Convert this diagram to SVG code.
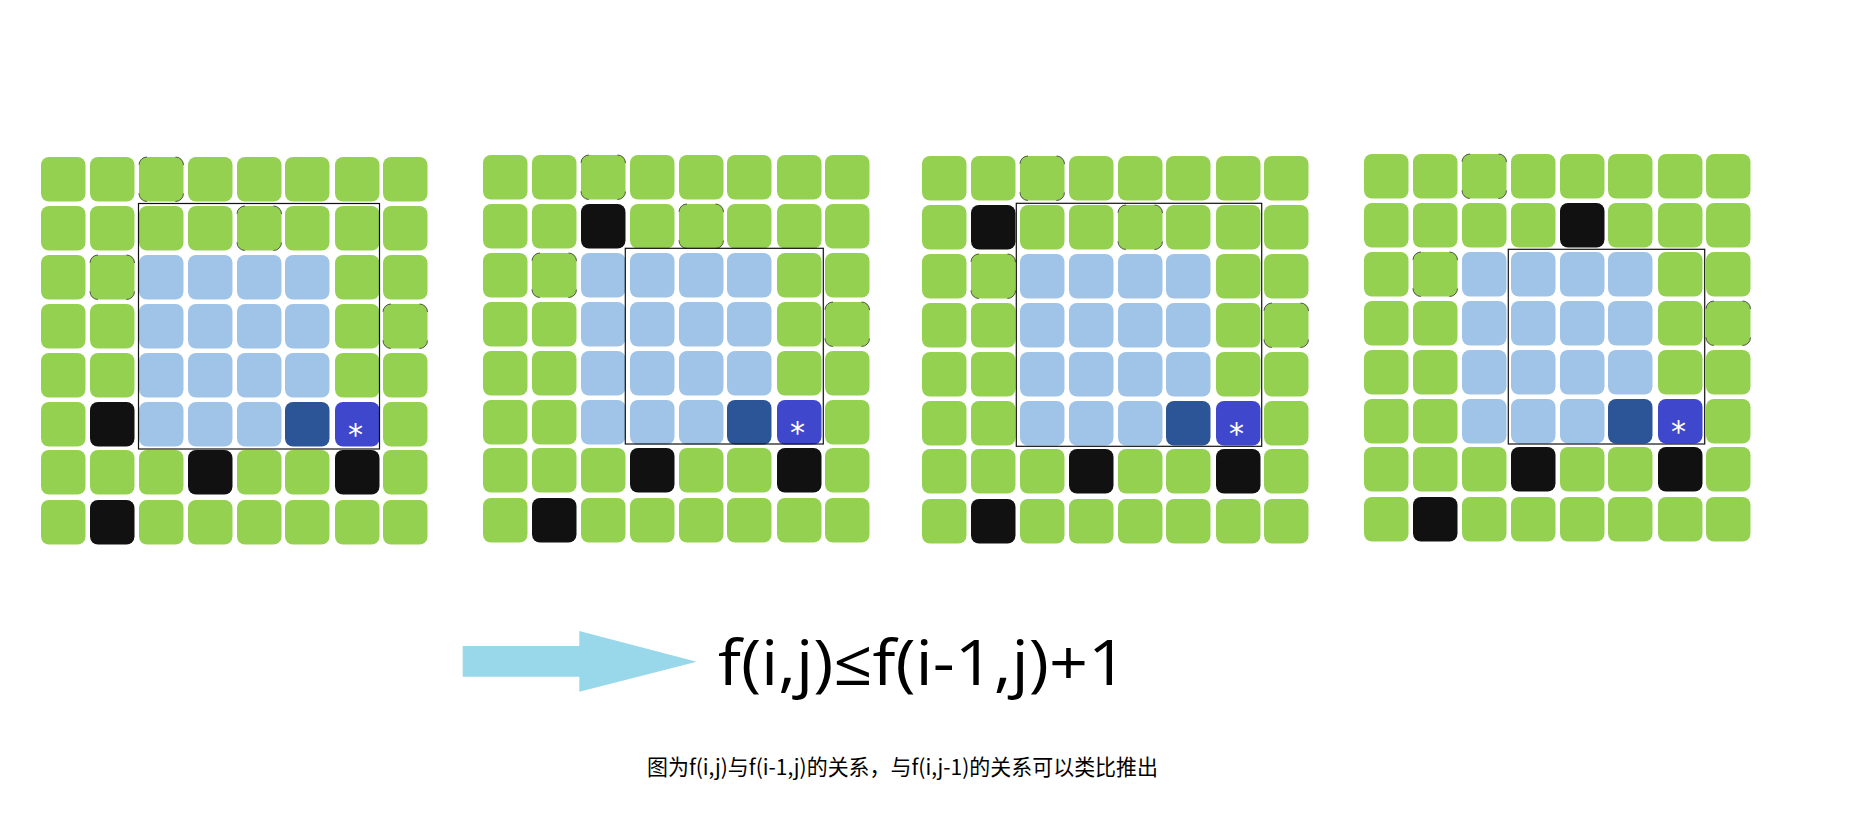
<svg xmlns="http://www.w3.org/2000/svg" xmlns:xlink="http://www.w3.org/1999/xlink" width="1876" height="818" viewBox="0 0 1876 818">
<style>
.g{fill:#95d150}
.b{fill:#9fc4e7}
.d{fill:#2b5597}
.p{fill:#3f48cc}
.k{fill:#111111}
.e{stroke:#333;stroke-width:0.8;stroke-dasharray:0 28.5 12.566 0}
.win{fill:none;stroke:#111;stroke-width:1.2}
.star{fill:#ffffff;font-family:"DejaVu Sans",sans-serif;font-size:30px;text-anchor:middle}
.formula{fill:#000;font-family:"Open Sans","Liberation Sans",sans-serif;font-size:63px}
.caption{fill:#000;font-family:"Noto Sans CJK SC","Noto Sans",sans-serif;font-size:21.5px}
</style>
<defs>
<rect id="c" width="44.5" height="44.5" rx="8"/>
</defs>
<rect width="1876" height="818" fill="#ffffff"/>

<g id="grid1" transform="translate(41,157)">
<use href="#c" x="0" y="0" class="g"/><use href="#c" x="49" y="0" class="g"/><use href="#c" x="98" y="0" class="g e"/><use href="#c" x="147" y="0" class="g"/><use href="#c" x="196" y="0" class="g"/><use href="#c" x="244" y="0" class="g"/><use href="#c" x="294" y="0" class="g"/><use href="#c" x="342" y="0" class="g"/>
<use href="#c" x="0" y="49" class="g"/><use href="#c" x="49" y="49" class="g"/><use href="#c" x="98" y="49" class="g"/><use href="#c" x="147" y="49" class="g"/><use href="#c" x="196" y="49" class="g e"/><use href="#c" x="244" y="49" class="g"/><use href="#c" x="294" y="49" class="g"/><use href="#c" x="342" y="49" class="g"/>
<use href="#c" x="0" y="98" class="g"/><use href="#c" x="49" y="98" class="g e"/><use href="#c" x="98" y="98" class="b"/><use href="#c" x="147" y="98" class="b"/><use href="#c" x="196" y="98" class="b"/><use href="#c" x="244" y="98" class="b"/><use href="#c" x="294" y="98" class="g"/><use href="#c" x="342" y="98" class="g"/>
<use href="#c" x="0" y="147" class="g"/><use href="#c" x="49" y="147" class="g"/><use href="#c" x="98" y="147" class="b"/><use href="#c" x="147" y="147" class="b"/><use href="#c" x="196" y="147" class="b"/><use href="#c" x="244" y="147" class="b"/><use href="#c" x="294" y="147" class="g"/><use href="#c" x="342" y="147" class="g e"/>
<use href="#c" x="0" y="196" class="g"/><use href="#c" x="49" y="196" class="g"/><use href="#c" x="98" y="196" class="b"/><use href="#c" x="147" y="196" class="b"/><use href="#c" x="196" y="196" class="b"/><use href="#c" x="244" y="196" class="b"/><use href="#c" x="294" y="196" class="g"/><use href="#c" x="342" y="196" class="g"/>
<use href="#c" x="0" y="245" class="g"/><use href="#c" x="49" y="245" class="k"/><use href="#c" x="98" y="245" class="b"/><use href="#c" x="147" y="245" class="b"/><use href="#c" x="196" y="245" class="b"/><use href="#c" x="244" y="245" class="d"/><use href="#c" x="294" y="245" class="p"/><use href="#c" x="342" y="245" class="g"/>
<use href="#c" x="0" y="293" class="g"/><use href="#c" x="49" y="293" class="g"/><use href="#c" x="98" y="293" class="g"/><use href="#c" x="147" y="293" class="k"/><use href="#c" x="196" y="293" class="g"/><use href="#c" x="244" y="293" class="g"/><use href="#c" x="294" y="293" class="k"/><use href="#c" x="342" y="293" class="g"/>
<use href="#c" x="0" y="343" class="g"/><use href="#c" x="49" y="343" class="k"/><use href="#c" x="98" y="343" class="g"/><use href="#c" x="147" y="343" class="g"/><use href="#c" x="196" y="343" class="g"/><use href="#c" x="244" y="343" class="g"/><use href="#c" x="294" y="343" class="g"/><use href="#c" x="342" y="343" class="g"/>
<rect class="win" x="97.5" y="46.5" width="241" height="245.5"/>
<text class="star" x="314.5" y="288">*</text>
</g>

<g id="grid2" transform="translate(483,155)">
<use href="#c" x="0" y="0" class="g"/><use href="#c" x="49" y="0" class="g"/><use href="#c" x="98" y="0" class="g e"/><use href="#c" x="147" y="0" class="g"/><use href="#c" x="196" y="0" class="g"/><use href="#c" x="244" y="0" class="g"/><use href="#c" x="294" y="0" class="g"/><use href="#c" x="342" y="0" class="g"/>
<use href="#c" x="0" y="49" class="g"/><use href="#c" x="49" y="49" class="g"/><use href="#c" x="98" y="49" class="k"/><use href="#c" x="147" y="49" class="g"/><use href="#c" x="196" y="49" class="g e"/><use href="#c" x="244" y="49" class="g"/><use href="#c" x="294" y="49" class="g"/><use href="#c" x="342" y="49" class="g"/>
<use href="#c" x="0" y="98" class="g"/><use href="#c" x="49" y="98" class="g e"/><use href="#c" x="98" y="98" class="b"/><use href="#c" x="147" y="98" class="b"/><use href="#c" x="196" y="98" class="b"/><use href="#c" x="244" y="98" class="b"/><use href="#c" x="294" y="98" class="g"/><use href="#c" x="342" y="98" class="g"/>
<use href="#c" x="0" y="147" class="g"/><use href="#c" x="49" y="147" class="g"/><use href="#c" x="98" y="147" class="b"/><use href="#c" x="147" y="147" class="b"/><use href="#c" x="196" y="147" class="b"/><use href="#c" x="244" y="147" class="b"/><use href="#c" x="294" y="147" class="g"/><use href="#c" x="342" y="147" class="g e"/>
<use href="#c" x="0" y="196" class="g"/><use href="#c" x="49" y="196" class="g"/><use href="#c" x="98" y="196" class="b"/><use href="#c" x="147" y="196" class="b"/><use href="#c" x="196" y="196" class="b"/><use href="#c" x="244" y="196" class="b"/><use href="#c" x="294" y="196" class="g"/><use href="#c" x="342" y="196" class="g"/>
<use href="#c" x="0" y="245" class="g"/><use href="#c" x="49" y="245" class="g"/><use href="#c" x="98" y="245" class="b"/><use href="#c" x="147" y="245" class="b"/><use href="#c" x="196" y="245" class="b"/><use href="#c" x="244" y="245" class="d"/><use href="#c" x="294" y="245" class="p"/><use href="#c" x="342" y="245" class="g"/>
<use href="#c" x="0" y="293" class="g"/><use href="#c" x="49" y="293" class="g"/><use href="#c" x="98" y="293" class="g"/><use href="#c" x="147" y="293" class="k"/><use href="#c" x="196" y="293" class="g"/><use href="#c" x="244" y="293" class="g"/><use href="#c" x="294" y="293" class="k"/><use href="#c" x="342" y="293" class="g"/>
<use href="#c" x="0" y="343" class="g"/><use href="#c" x="49" y="343" class="k"/><use href="#c" x="98" y="343" class="g"/><use href="#c" x="147" y="343" class="g"/><use href="#c" x="196" y="343" class="g"/><use href="#c" x="244" y="343" class="g"/><use href="#c" x="294" y="343" class="g"/><use href="#c" x="342" y="343" class="g"/>
<rect class="win" x="142.3" y="93.3" width="198" height="195.7"/>
<text class="star" x="314.5" y="288">*</text>
</g>

<g id="grid3" transform="translate(922,156)">
<use href="#c" x="0" y="0" class="g"/><use href="#c" x="49" y="0" class="g"/><use href="#c" x="98" y="0" class="g e"/><use href="#c" x="147" y="0" class="g"/><use href="#c" x="196" y="0" class="g"/><use href="#c" x="244" y="0" class="g"/><use href="#c" x="294" y="0" class="g"/><use href="#c" x="342" y="0" class="g"/>
<use href="#c" x="0" y="49" class="g"/><use href="#c" x="49" y="49" class="k"/><use href="#c" x="98" y="49" class="g"/><use href="#c" x="147" y="49" class="g"/><use href="#c" x="196" y="49" class="g e"/><use href="#c" x="244" y="49" class="g"/><use href="#c" x="294" y="49" class="g"/><use href="#c" x="342" y="49" class="g"/>
<use href="#c" x="0" y="98" class="g"/><use href="#c" x="49" y="98" class="g e"/><use href="#c" x="98" y="98" class="b"/><use href="#c" x="147" y="98" class="b"/><use href="#c" x="196" y="98" class="b"/><use href="#c" x="244" y="98" class="b"/><use href="#c" x="294" y="98" class="g"/><use href="#c" x="342" y="98" class="g"/>
<use href="#c" x="0" y="147" class="g"/><use href="#c" x="49" y="147" class="g"/><use href="#c" x="98" y="147" class="b"/><use href="#c" x="147" y="147" class="b"/><use href="#c" x="196" y="147" class="b"/><use href="#c" x="244" y="147" class="b"/><use href="#c" x="294" y="147" class="g"/><use href="#c" x="342" y="147" class="g e"/>
<use href="#c" x="0" y="196" class="g"/><use href="#c" x="49" y="196" class="g"/><use href="#c" x="98" y="196" class="b"/><use href="#c" x="147" y="196" class="b"/><use href="#c" x="196" y="196" class="b"/><use href="#c" x="244" y="196" class="b"/><use href="#c" x="294" y="196" class="g"/><use href="#c" x="342" y="196" class="g"/>
<use href="#c" x="0" y="245" class="g"/><use href="#c" x="49" y="245" class="g"/><use href="#c" x="98" y="245" class="b"/><use href="#c" x="147" y="245" class="b"/><use href="#c" x="196" y="245" class="b"/><use href="#c" x="244" y="245" class="d"/><use href="#c" x="294" y="245" class="p"/><use href="#c" x="342" y="245" class="g"/>
<use href="#c" x="0" y="293" class="g"/><use href="#c" x="49" y="293" class="g"/><use href="#c" x="98" y="293" class="g"/><use href="#c" x="147" y="293" class="k"/><use href="#c" x="196" y="293" class="g"/><use href="#c" x="244" y="293" class="g"/><use href="#c" x="294" y="293" class="k"/><use href="#c" x="342" y="293" class="g"/>
<use href="#c" x="0" y="343" class="g"/><use href="#c" x="49" y="343" class="k"/><use href="#c" x="98" y="343" class="g"/><use href="#c" x="147" y="343" class="g"/><use href="#c" x="196" y="343" class="g"/><use href="#c" x="244" y="343" class="g"/><use href="#c" x="294" y="343" class="g"/><use href="#c" x="342" y="343" class="g"/>
<rect class="win" x="94.3" y="47.3" width="245.4" height="243"/>
<text class="star" x="314.5" y="288">*</text>
</g>

<g id="grid4" transform="translate(1364,154)">
<use href="#c" x="0" y="0" class="g"/><use href="#c" x="49" y="0" class="g"/><use href="#c" x="98" y="0" class="g e"/><use href="#c" x="147" y="0" class="g"/><use href="#c" x="196" y="0" class="g"/><use href="#c" x="244" y="0" class="g"/><use href="#c" x="294" y="0" class="g"/><use href="#c" x="342" y="0" class="g"/>
<use href="#c" x="0" y="49" class="g"/><use href="#c" x="49" y="49" class="g"/><use href="#c" x="98" y="49" class="g"/><use href="#c" x="147" y="49" class="g"/><use href="#c" x="196" y="49" class="k"/><use href="#c" x="244" y="49" class="g"/><use href="#c" x="294" y="49" class="g"/><use href="#c" x="342" y="49" class="g"/>
<use href="#c" x="0" y="98" class="g"/><use href="#c" x="49" y="98" class="g e"/><use href="#c" x="98" y="98" class="b"/><use href="#c" x="147" y="98" class="b"/><use href="#c" x="196" y="98" class="b"/><use href="#c" x="244" y="98" class="b"/><use href="#c" x="294" y="98" class="g"/><use href="#c" x="342" y="98" class="g"/>
<use href="#c" x="0" y="147" class="g"/><use href="#c" x="49" y="147" class="g"/><use href="#c" x="98" y="147" class="b"/><use href="#c" x="147" y="147" class="b"/><use href="#c" x="196" y="147" class="b"/><use href="#c" x="244" y="147" class="b"/><use href="#c" x="294" y="147" class="g"/><use href="#c" x="342" y="147" class="g e"/>
<use href="#c" x="0" y="196" class="g"/><use href="#c" x="49" y="196" class="g"/><use href="#c" x="98" y="196" class="b"/><use href="#c" x="147" y="196" class="b"/><use href="#c" x="196" y="196" class="b"/><use href="#c" x="244" y="196" class="b"/><use href="#c" x="294" y="196" class="g"/><use href="#c" x="342" y="196" class="g"/>
<use href="#c" x="0" y="245" class="g"/><use href="#c" x="49" y="245" class="g"/><use href="#c" x="98" y="245" class="b"/><use href="#c" x="147" y="245" class="b"/><use href="#c" x="196" y="245" class="b"/><use href="#c" x="244" y="245" class="d"/><use href="#c" x="294" y="245" class="p"/><use href="#c" x="342" y="245" class="g"/>
<use href="#c" x="0" y="293" class="g"/><use href="#c" x="49" y="293" class="g"/><use href="#c" x="98" y="293" class="g"/><use href="#c" x="147" y="293" class="k"/><use href="#c" x="196" y="293" class="g"/><use href="#c" x="244" y="293" class="g"/><use href="#c" x="294" y="293" class="k"/><use href="#c" x="342" y="293" class="g"/>
<use href="#c" x="0" y="343" class="g"/><use href="#c" x="49" y="343" class="k"/><use href="#c" x="98" y="343" class="g"/><use href="#c" x="147" y="343" class="g"/><use href="#c" x="196" y="343" class="g"/><use href="#c" x="244" y="343" class="g"/><use href="#c" x="294" y="343" class="g"/><use href="#c" x="342" y="343" class="g"/>
<rect class="win" x="144.3" y="95.3" width="196.4" height="194.7"/>
<text class="star" x="314.5" y="288">*</text>
</g>

<g id="connectors">
<polygon id="arrow" points="462.7,646 579.3,646 579.3,631 696.7,661.7 579.3,691.7 579.3,676.7 462.7,676.7" fill="#99d8ea"/>
</g>

<g id="formula">
<text class="formula" x="718" y="685" textLength="409" lengthAdjust="spacingAndGlyphs">f(i,j)≤f(i-1,j)+1</text>
</g>

<g id="caption">
<text class="caption" x="647" y="775" textLength="511" lengthAdjust="spacingAndGlyphs">图为f(i,j)与f(i-1,j)的关系，与f(i,j-1)的关系可以类比推出</text>
</g>
</svg>
